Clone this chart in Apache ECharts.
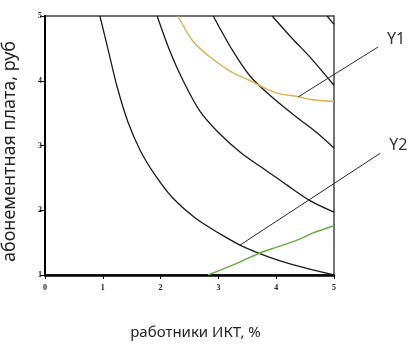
<!DOCTYPE html>
<html><head><meta charset="utf-8">
<script src="https://cdn.jsdelivr.net/npm/echarts@6/dist/echarts.min.js"></script>
<style>html,body{margin:0;padding:0;background:#fff}#c{width:419px;height:352px}</style>
</head><body><div id="c"></div>
<script>
// Data (x: работники ИКТ, %, y: абонементная плата, руб)
const xTicks = [0, 1, 2, 3, 4, 5];
const yTicks = [1, 2, 3, 4, 5];
const curve1 = [[0.95,5],[1.1,4.45],[1.25,3.9],[1.44,3.35],[1.65,2.92],[1.9,2.55],[2.2,2.2],[2.6,1.88],[3.0,1.65],[3.4,1.45],[3.9,1.27],[4.45,1.12],[5,1.0]];
const curve2 = [[1.94,5],[2.16,4.46],[2.39,4.0],[2.68,3.53],[3.0,3.2],[3.4,2.88],[3.8,2.63],[4.2,2.38],[4.6,2.14],[5,1.97]];
const curve3 = [[2.91,5],[3.25,4.46],[3.55,4.07],[3.9,3.77],[4.35,3.44],[4.7,3.2],[5,2.96]];
const curve4 = [[3.93,5],[4.29,4.64],[4.6,4.35],[5,3.93]];
const curve5 = [[4.88,5],[5,4.87]];
const y1Values = [[2.3,5],[2.56,4.61],[2.85,4.37],[3.2,4.15],[3.55,4.0],[3.77,3.9],[4.01,3.81],[4.41,3.75],[4.6,3.71],[5,3.68]];
const y2Values = [[2.82,1],[3.37,1.2],[3.72,1.34],[4.01,1.43],[4.36,1.54],[4.64,1.65],[5,1.76]];
// leader lines: [fromX, fromY, toX, toY]
const leaders = [[4.38,3.75,5.76,4.52],[3.37,1.46,5.80,2.88]];
const seriesNames = ['Y1', 'Y2'];

const chart = echarts.init(document.getElementById('c'), null, {renderer: 'canvas'});
const blackLine = (d) => ({type:'line', data:d, showSymbol:false, smooth:0.3, silent:true,
  lineStyle:{color:'#1a1a1a', width:1.3}, z:3});
chart.setOption({
  animation:false,
  grid:{left:45, right:85, top:16, bottom:77, show:true, borderColor:'#444', borderWidth:1.5, outerBoundsMode:'none', containLabel:false},
  xAxis:{type:'value', min:0, max:5, interval:1,
    name:'работники ИКТ, %', nameLocation:'middle', nameGap:50,
    nameTextStyle:{fontSize:15, color:'#222', fontFamily:'Noto Sans', padding:[0,0,0,12]},
    axisLine:{lineStyle:{color:'#000', width:2.5}},
    axisTick:{show:true, length:4, lineStyle:{color:'#000'}},
    axisLabel:{fontSize:8, color:'#222', fontFamily:'Liberation Serif', fontWeight:'bold', margin:9,
      formatter:(v)=> xTicks.includes(v) ? String(v) : ''},
    splitLine:{show:false}},
  yAxis:{type:'value', min:1, max:5, interval:1,
    name:'абонементная плата, руб', nameLocation:'middle', nameGap:26,
    nameTextStyle:{fontSize:18, color:'#222', fontFamily:'Noto Sans', padding:[0,12,0,0]},
    axisLine:{show:true, lineStyle:{color:'#000', width:2}},
    axisTick:{show:true, length:5, lineStyle:{color:'#000'}},
    axisLabel:{fontSize:8, color:'#222', fontFamily:'Liberation Serif', fontWeight:'bold', margin:3,
      formatter:(v)=> yTicks.includes(v) ? String(v) : ''},
    splitLine:{show:false}},
  series:[
    blackLine(curve1), blackLine(curve2), blackLine(curve3), blackLine(curve4), blackLine(curve5),
    {type:'line', name:seriesNames[0], data:y1Values, showSymbol:false, smooth:0.3, lineStyle:{color:'#d6b44e', width:1.4}, z:3},
    {type:'line', name:seriesNames[1], data:y2Values, showSymbol:false, smooth:0.3, lineStyle:{color:'#66ad3e', width:1.4}, z:3},
    {type:'custom', clip:false, silent:true, z:4,
     data: leaders.map((l,i)=> l.concat([i])),
     encode:{x:[0,2], y:[1,3]},
     renderItem:(params, api)=>{
       const p1 = api.coord([api.value(0), api.value(1)]);
       const p2 = api.coord([api.value(2), api.value(3)]);
       const name = seriesNames[api.value(4)];
       return {type:'group', children:[
         {type:'line', shape:{x1:p1[0], y1:p1[1], x2:p2[0], y2:p2[1]}, style:{stroke:'#2a2a2a', lineWidth:1}},
         {type:'text', x:p2[0]+9, y:p2[1]-8, style:{text:name, fill:'#333', fontSize:16, fontFamily:'Noto Sans', verticalAlign:'middle', align:'left'}}
       ]};
     }}
  ]
});
</script></body></html>
